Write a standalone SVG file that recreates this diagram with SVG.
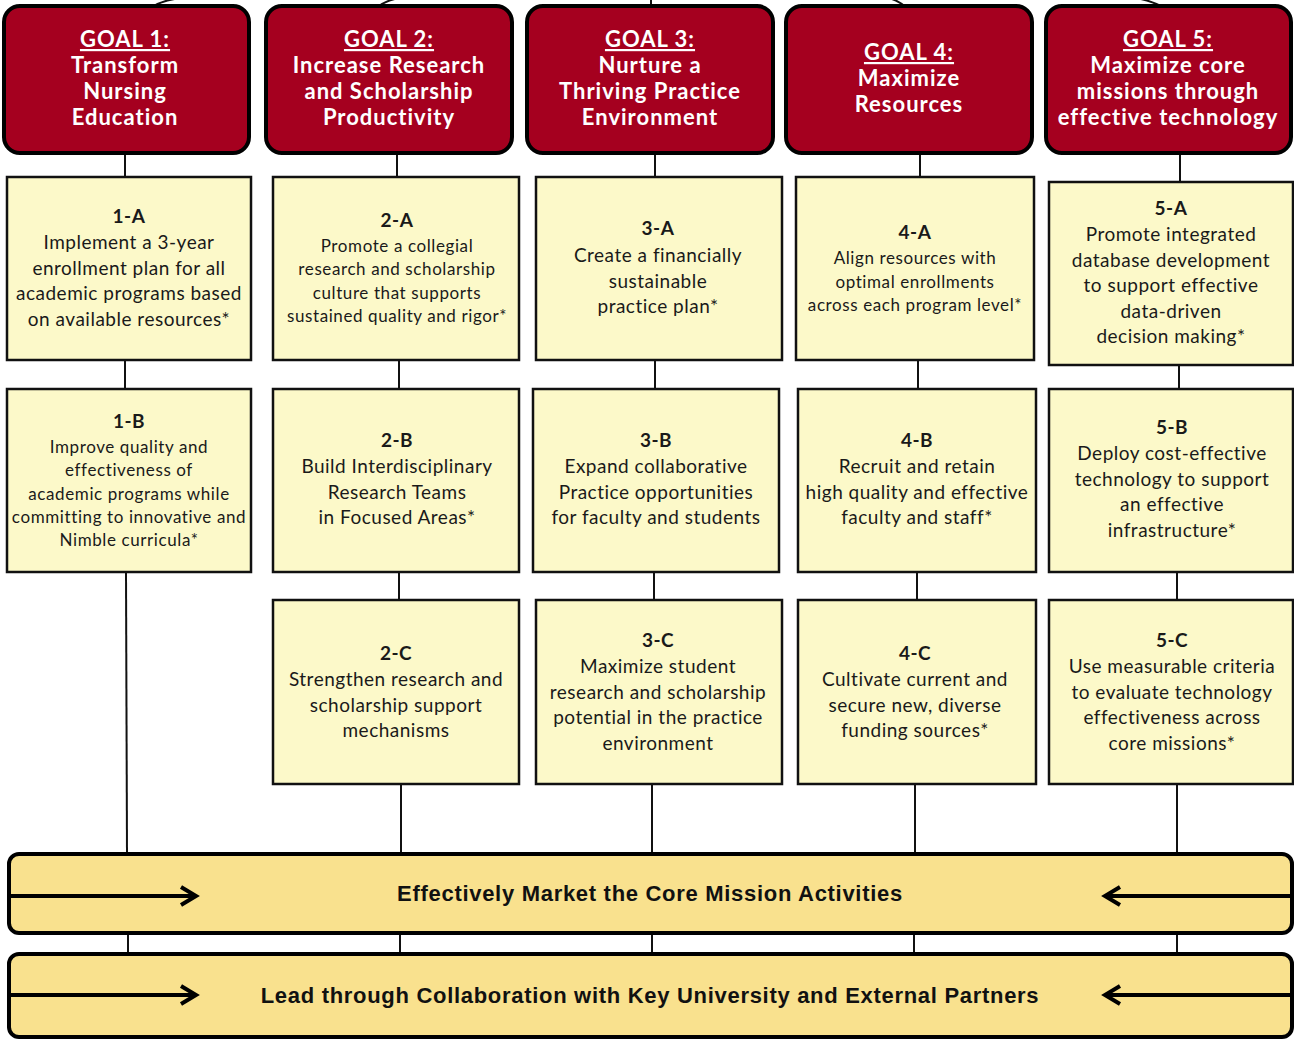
<svg xmlns="http://www.w3.org/2000/svg" width="1294" height="1040" viewBox="0 0 1294 1040">
<style>
.goal rect{fill:#A5001F;stroke:#000;stroke-width:4}
.goal text{font-family:Lato,"Noto Sans",sans-serif;font-weight:bold;font-size:22px;letter-spacing:1px;fill:#fff;text-anchor:middle}
.box rect{fill:#FCF9C9;stroke:#111;stroke-width:2.5}
.box text{font-family:Lato,"Noto Sans",sans-serif;font-size:19px;letter-spacing:0.5px;fill:#1a1a1a;text-anchor:middle}
.box .s{font-size:17px;letter-spacing:0.6px}
.box .id{font-weight:bold}
.band rect{fill:#F9E18E;stroke:#000;stroke-width:4}
.band text{font-family:"Liberation Sans",Arial,sans-serif;font-weight:bold;font-size:22px;letter-spacing:0.7px;fill:#111;text-anchor:middle}
.conn line,.conn path{stroke:#111;stroke-width:2;fill:none}
.arr{stroke:#000;stroke-width:4;fill:none}
</style>
<g id="connectors" class="conn">
<path d="M150,8 Q162,0 182,-2"/>
<path d="M376,8 Q386,0 400,-2"/>
<line x1="651" y1="0" x2="651" y2="8"/>
<path d="M907,8 Q898,0 888,-2"/>
<path d="M1165,8 Q1150,0 1135,-2"/>
<line x1="125" y1="153" x2="125" y2="177"/>
<line x1="397" y1="153" x2="397" y2="177"/>
<line x1="655" y1="153" x2="655" y2="177"/>
<line x1="920" y1="153" x2="920" y2="177"/>
<line x1="1180" y1="153" x2="1180" y2="182"/>
<line x1="125" y1="360" x2="125" y2="389"/>
<line x1="399" y1="360" x2="399" y2="389"/>
<line x1="655" y1="360" x2="655" y2="389"/>
<line x1="918" y1="360" x2="918" y2="389"/>
<line x1="1179" y1="365" x2="1179" y2="389"/>
<line x1="126" y1="572" x2="127" y2="853"/>
<line x1="399" y1="572" x2="399" y2="600"/>
<line x1="654" y1="572" x2="654" y2="600"/>
<line x1="917" y1="572" x2="917" y2="600"/>
<line x1="1177" y1="572" x2="1177" y2="600"/>
<line x1="401" y1="784" x2="401" y2="853"/>
<line x1="652" y1="784" x2="652" y2="853"/>
<line x1="915" y1="784" x2="915" y2="853"/>
<line x1="1177" y1="784" x2="1177" y2="853"/>
<line x1="128" y1="933" x2="128" y2="953"/>
<line x1="400" y1="933" x2="400" y2="953"/>
<line x1="652" y1="933" x2="652" y2="953"/>
<line x1="914" y1="933" x2="914" y2="953"/>
<line x1="1177" y1="933" x2="1177" y2="953"/>
</g>
<g id="goal1" class="goal"><rect x="4" y="6" width="245" height="147" rx="16"/>
<text x="125" y="47"><tspan text-decoration="underline">GOAL 1:</tspan><tspan x="125" dy="26">Transform</tspan><tspan x="125" dy="26">Nursing</tspan><tspan x="125" dy="26">Education</tspan></text></g>
<g id="goal2" class="goal"><rect x="266" y="6" width="246" height="147" rx="16"/>
<text x="389" y="47"><tspan text-decoration="underline">GOAL 2:</tspan><tspan x="389" dy="26">Increase Research</tspan><tspan x="389" dy="26">and Scholarship</tspan><tspan x="389" dy="26">Productivity</tspan></text></g>
<g id="goal3" class="goal"><rect x="527" y="6" width="246" height="147" rx="16"/>
<text x="650" y="47"><tspan text-decoration="underline">GOAL 3:</tspan><tspan x="650" dy="26">Nurture a</tspan><tspan x="650" dy="26">Thriving Practice</tspan><tspan x="650" dy="26">Environment</tspan></text></g>
<g id="goal4" class="goal"><rect x="786" y="6" width="246" height="147" rx="16"/>
<text x="909" y="60"><tspan text-decoration="underline">GOAL 4:</tspan><tspan x="909" dy="26">Maximize</tspan><tspan x="909" dy="26">Resources</tspan></text></g>
<g id="goal5" class="goal"><rect x="1046" y="6" width="245" height="147" rx="16"/>
<text x="1168" y="47"><tspan text-decoration="underline">GOAL 5:</tspan><tspan x="1168" dy="26">Maximize core</tspan><tspan x="1168" dy="26">missions through</tspan><tspan x="1168" dy="26">effective technology</tspan></text></g>

<g id="n1A" class="box"><rect x="7" y="177" width="244" height="183"/>
<text x="129" y="223"><tspan class="id">1-A</tspan><tspan x="129" dy="26">Implement a 3-year</tspan><tspan x="129" dy="25.5">enrollment plan for all</tspan><tspan x="129" dy="25.5">academic programs based</tspan><tspan x="129" dy="25.5">on available resources*</tspan></text></g>
<g id="n2A" class="box"><rect x="273" y="177" width="246" height="183"/>
<text x="397" y="227"><tspan class="id">2-A</tspan><tspan x="397" dy="25" class="s">Promote a collegial</tspan><tspan x="397" dy="23.3" class="s">research and scholarship</tspan><tspan x="397" dy="23.3" class="s">culture that supports</tspan><tspan x="397" dy="23.3" class="s">sustained quality and rigor*</tspan></text></g>
<g id="n3A" class="box"><rect x="536" y="177" width="246" height="183"/>
<text x="658" y="235"><tspan class="id">3-A</tspan><tspan x="658" dy="27">Create a financially</tspan><tspan x="658" dy="25.5">sustainable</tspan><tspan x="658" dy="25.5">practice plan*</tspan></text></g>
<g id="n4A" class="box"><rect x="796" y="177" width="238" height="183"/>
<text x="915" y="239"><tspan class="id">4-A</tspan><tspan x="915" dy="25" class="s">Align resources with</tspan><tspan x="915" dy="23.5" class="s">optimal enrollments</tspan><tspan x="915" dy="23.5" class="s">across each program level*</tspan></text></g>
<g id="n5A" class="box"><rect x="1049" y="182" width="244" height="183"/>
<text x="1171" y="215"><tspan class="id">5-A</tspan><tspan x="1171" dy="26">Promote integrated</tspan><tspan x="1171" dy="25.5">database development</tspan><tspan x="1171" dy="25.5">to support effective</tspan><tspan x="1171" dy="25.5">data-driven</tspan><tspan x="1171" dy="25.5">decision making*</tspan></text></g>

<g id="n1B" class="box"><rect x="7" y="389" width="244" height="183"/>
<text x="129" y="428"><tspan class="id">1-B</tspan><tspan x="129" dy="25" class="s">Improve quality and</tspan><tspan x="129" dy="23.3" class="s">effectiveness  of</tspan><tspan x="129" dy="23.3" class="s">academic programs while</tspan><tspan x="129" dy="23.3" class="s">committing to innovative and</tspan><tspan x="129" dy="23.3" class="s">Nimble curricula*</tspan></text></g>
<g id="n2B" class="box"><rect x="273" y="389" width="246" height="183"/>
<text x="397" y="447"><tspan class="id">2-B</tspan><tspan x="397" dy="26">Build Interdisciplinary</tspan><tspan x="397" dy="25.5">Research Teams</tspan><tspan x="397" dy="25.5">in Focused Areas*</tspan></text></g>
<g id="n3B" class="box"><rect x="533" y="389" width="246" height="183"/>
<text x="656" y="447"><tspan class="id">3-B</tspan><tspan x="656" dy="26">Expand collaborative</tspan><tspan x="656" dy="25.5">Practice opportunities</tspan><tspan x="656" dy="25.5">for faculty and students</tspan></text></g>
<g id="n4B" class="box"><rect x="798" y="389" width="238" height="183"/>
<text x="917" y="447"><tspan class="id">4-B</tspan><tspan x="917" dy="26">Recruit and retain</tspan><tspan x="917" dy="25.5">high quality and effective</tspan><tspan x="917" dy="25.5">faculty and staff*</tspan></text></g>
<g id="n5B" class="box"><rect x="1049" y="389" width="244" height="183"/>
<text x="1172" y="434"><tspan class="id">5-B</tspan><tspan x="1172" dy="26">Deploy cost-effective</tspan><tspan x="1172" dy="25.5">technology to support</tspan><tspan x="1172" dy="25.5">an effective</tspan><tspan x="1172" dy="25.5">infrastructure*</tspan></text></g>

<g id="n2C" class="box"><rect x="273" y="600" width="246" height="184"/>
<text x="396" y="660"><tspan class="id">2-C</tspan><tspan x="396" dy="26">Strengthen research and</tspan><tspan x="396" dy="25.5">scholarship support</tspan><tspan x="396" dy="25.5">mechanisms</tspan></text></g>
<g id="n3C" class="box"><rect x="536" y="600" width="246" height="184"/>
<text x="658" y="647"><tspan class="id">3-C</tspan><tspan x="658" dy="26">Maximize student</tspan><tspan x="658" dy="25.5">research and scholarship</tspan><tspan x="658" dy="25.5">potential in the practice</tspan><tspan x="658" dy="25.5">environment</tspan></text></g>
<g id="n4C" class="box"><rect x="798" y="600" width="238" height="184"/>
<text x="915" y="660"><tspan class="id">4-C</tspan><tspan x="915" dy="26">Cultivate current and</tspan><tspan x="915" dy="25.5">secure new, diverse</tspan><tspan x="915" dy="25.5">funding sources*</tspan></text></g>
<g id="n5C" class="box"><rect x="1049" y="600" width="244" height="184"/>
<text x="1172" y="647"><tspan class="id">5-C</tspan><tspan x="1172" dy="26">Use measurable criteria</tspan><tspan x="1172" dy="25.5">to evaluate technology</tspan><tspan x="1172" dy="25.5">effectiveness across</tspan><tspan x="1172" dy="25.5">core missions*</tspan></text></g>

<g id="band1" class="band"><rect x="9" y="854" width="1283" height="79" rx="10"/>
<text x="650" y="901">Effectively Market the Core Mission Activities</text>
<line class="arr" x1="9" y1="896" x2="195" y2="896"/><polyline class="arr" points="181,887 196,896 181,905"/>
<line class="arr" x1="1106" y1="896" x2="1292" y2="896"/><polyline class="arr" points="1120,887 1105,896 1120,905"/></g>
<g id="band2" class="band"><rect x="9" y="954" width="1283" height="83" rx="10"/>
<text x="650" y="1003">Lead through Collaboration with Key University and External Partners</text>
<line class="arr" x1="9" y1="995" x2="195" y2="995"/><polyline class="arr" points="181,986 196,995 181,1004"/>
<line class="arr" x1="1106" y1="995" x2="1292" y2="995"/><polyline class="arr" points="1120,986 1105,995 1120,1004"/></g>
</svg>
